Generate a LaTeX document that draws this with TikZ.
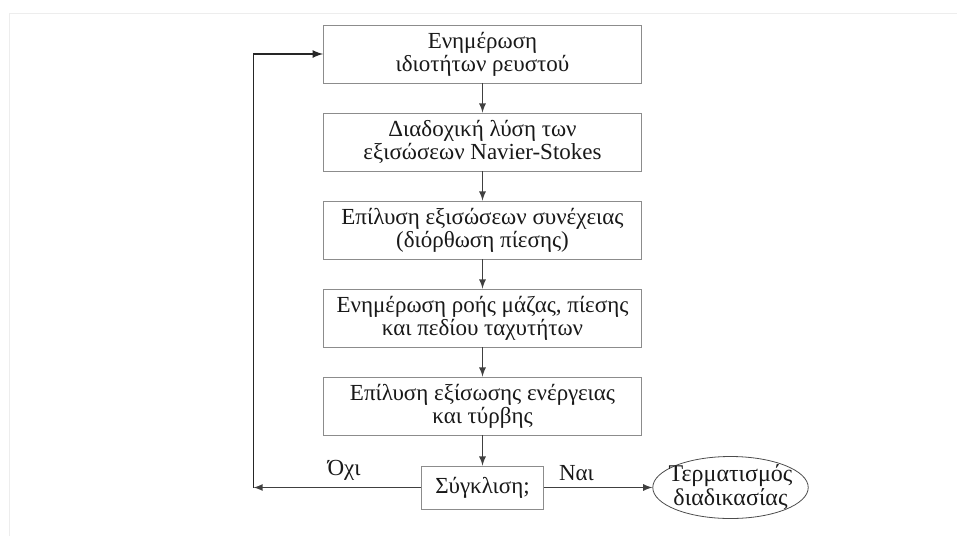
\documentclass[tikz,border=0pt]{standalone}
\usepackage{fontspec}
\setmainfont{Liberation Serif}
\usetikzlibrary{shapes, arrows.meta, positioning}
\tikzstyle{block}=[draw=black!45,fill=white,rectangle,minimum width=159pt,minimum height=29pt,inner sep=0pt,align=center]
\tikzstyle{every node}=[font=\fontsize{11.5}{9.5}\selectfont,text=black!90]

\begin{document}
\begin{tikzpicture}[node distance=44pt,>=latex]
    \useasboundingbox (0,0) rectangle (478.5pt,-268pt);
    \draw[black!7] (4.5pt,-268pt) |- (478.5pt,-6.5pt);
    \node[block] at (241.25pt,-27pt) (upd) {Ενημέρωση\\ιδιοτήτων ρευστού};
    \node[block, below of=upd] (ns) {Διαδοχική λύση των\\εξισώσεων Navier-Stokes};
    \node[block, below of=ns] (pc) {Επίλυση εξισώσεων συνέχειας\\(διόρθωση πίεσης)};
    \node[block, below of=pc] (flow) {Ενημέρωση ροής μάζας, πίεσης\\και πεδίου ταχυτήτων};
    \node[block, below of=flow] (en) {Επίλυση εξίσωσης ενέργειας\\και τύρβης};
    \node[block, below of=en, node distance=40.75pt, minimum width=61pt, minimum height=21.5pt] (conv) {Σύγκλιση;};
    \node[ellipse, draw=black!70, right of=conv, node distance=124pt, minimum width=75pt, minimum height=31pt, inner sep=-3.5pt, align=center, font=\fontsize{12}{10}\selectfont] (end) {Τερματισμός\\διαδικασίας};
    \coordinate[left of=conv, node distance=114.5pt] (back);
    \draw[->, black!75, semithick] (upd) -- (ns);
    \draw[->, black!75, semithick] (ns) -- (pc);
    \draw[->, black!75, semithick] (pc) -- (flow);
    \draw[->, black!75, semithick] (flow) -- (en);
    \draw[->, black!75, semithick] (en) -- (conv);
    \draw[->, black!75, semithick] (conv) -- node[above, pos=.3] {Ναι} (end);
    \draw[->, black!75, semithick] (conv) -- node[above, pos=.46] {Όχι} (back);
    \draw[->, black!85, thick] (back) |- (upd.west);
\end{tikzpicture}
\end{document}
